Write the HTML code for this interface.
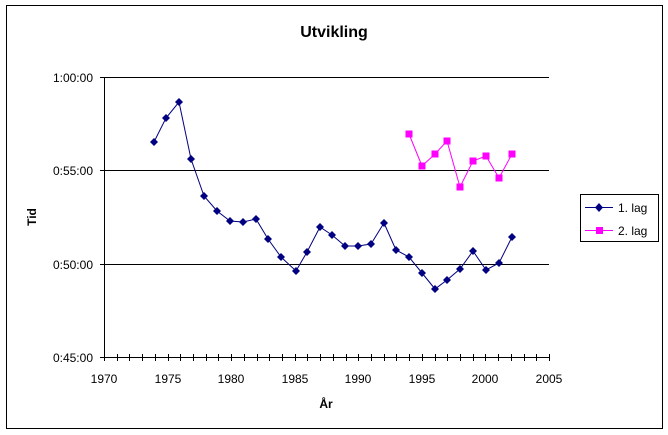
<!DOCTYPE html>
<html><head><style>body{margin:0;background:#fff}svg{display:block}text{font-family:"Liberation Sans",Arial,sans-serif}</style></head><body>
<svg width="668" height="435" viewBox="0 0 668 435">
<rect x="6.5" y="5.5" width="656" height="423" fill="#fff" stroke="#000"/>
<text x="334" y="37" font-size="16" font-weight="bold" text-anchor="middle">Utvikling</text>
<g stroke="#000" stroke-width="1">
<line x1="104" y1="77.5" x2="549" y2="77.5"/>
<line x1="104" y1="170.5" x2="549" y2="170.5"/>
<line x1="104" y1="264.5" x2="549" y2="264.5"/>
<line x1="104" y1="357.5" x2="550" y2="357.5"/>
<line x1="104.5" y1="77" x2="104.5" y2="358"/>
<line x1="100" y1="77.5" x2="104" y2="77.5"/>
<line x1="100" y1="170.5" x2="104" y2="170.5"/>
<line x1="100" y1="264.5" x2="104" y2="264.5"/>
<line x1="100" y1="357.5" x2="104" y2="357.5"/>
</g>
<g id="ticks" stroke="#000"></g>
<g font-size="12" text-anchor="end">
<text x="93" y="82">1:00:00</text><text x="93" y="175">0:55:00</text><text x="93" y="269">0:50:00</text><text x="93" y="362">0:45:00</text>
</g>
<g font-size="12" text-anchor="middle">
<text x="104" y="383">1970</text><text x="168" y="383">1975</text><text x="231" y="383">1980</text><text x="295" y="383">1985</text><text x="358" y="383">1990</text><text x="422" y="383">1995</text><text x="485" y="383">2000</text><text x="549" y="383">2005</text>
</g>
<text x="326" y="408" font-size="12" font-weight="bold" text-anchor="middle">År</text>
<text transform="translate(36,217) rotate(-90)" font-size="12" font-weight="bold" text-anchor="middle">Tid</text>
<polyline fill="none" stroke="#000080" points="154,142 166,118 179,102 191,159 204,196 217,211 230,221 243,222 256,219 268,239 281,257 296,271 307,252 320,227 332,235 345,246 358,246 371,244 384,223 396,250 409,257 422,273 435,289 447,280 460,269 473,251 486,270 499,263 512,237"/>
<g id="d" fill="#000080"></g>
<polyline fill="none" stroke="#ff00ff" points="409,134 422,166 435,154 447,141 460,187 473,161 486,156 499,178 512,154"/>
<g id="s" fill="#ff00ff"></g>
<rect x="580.5" y="194.5" width="78" height="47" fill="#fff" stroke="#000"/>
<line x1="585" y1="207.5" x2="613" y2="207.5" stroke="#000080"/>
<polygon points="599,203 603,207.5 599,212 595,207.5" fill="#000080"/>
<text x="618" y="212" font-size="12">1. lag</text>
<line x1="585" y1="230.5" x2="613" y2="230.5" stroke="#ff00ff"/>
<rect x="596" y="227" width="7" height="7" fill="#ff00ff"/>
<text x="618" y="235" font-size="12">2. lag</text>
</svg>
<script>
var ns="http://www.w3.org/2000/svg",t=document.getElementById("ticks");
for(var i=0;i<=35;i++){var x=Math.round(104+i*445/35)+0.5,l=document.createElementNS(ns,"line");l.setAttribute("x1",x);l.setAttribute("x2",x);l.setAttribute("y1",354);l.setAttribute("y2",361);t.appendChild(l);}
var d=[[154,142],[166,118],[179,102],[191,159],[204,196],[217,211],[230,221],[243,222],[256,219],[268,239],[281,257],[296,271],[307,252],[320,227],[332,235],[345,246],[358,246],[371,244],[384,223],[396,250],[409,257],[422,273],[435,289],[447,280],[460,269],[473,251],[486,270],[499,263],[512,237]];
var g=document.getElementById("d");d.forEach(function(p){var e=document.createElementNS(ns,"polygon");e.setAttribute("points",p[0]+","+(p[1]-4)+" "+(p[0]+4)+","+p[1]+" "+p[0]+","+(p[1]+4)+" "+(p[0]-4)+","+p[1]);g.appendChild(e);});
var s=[[409,134],[422,166],[435,154],[447,141],[460,187],[473,161],[486,156],[499,178],[512,154]];
var h=document.getElementById("s");s.forEach(function(p){var e=document.createElementNS(ns,"rect");e.setAttribute("x",p[0]-3.5);e.setAttribute("y",p[1]-3.5);e.setAttribute("width",7);e.setAttribute("height",7);h.appendChild(e);});
</script>
</body></html>
